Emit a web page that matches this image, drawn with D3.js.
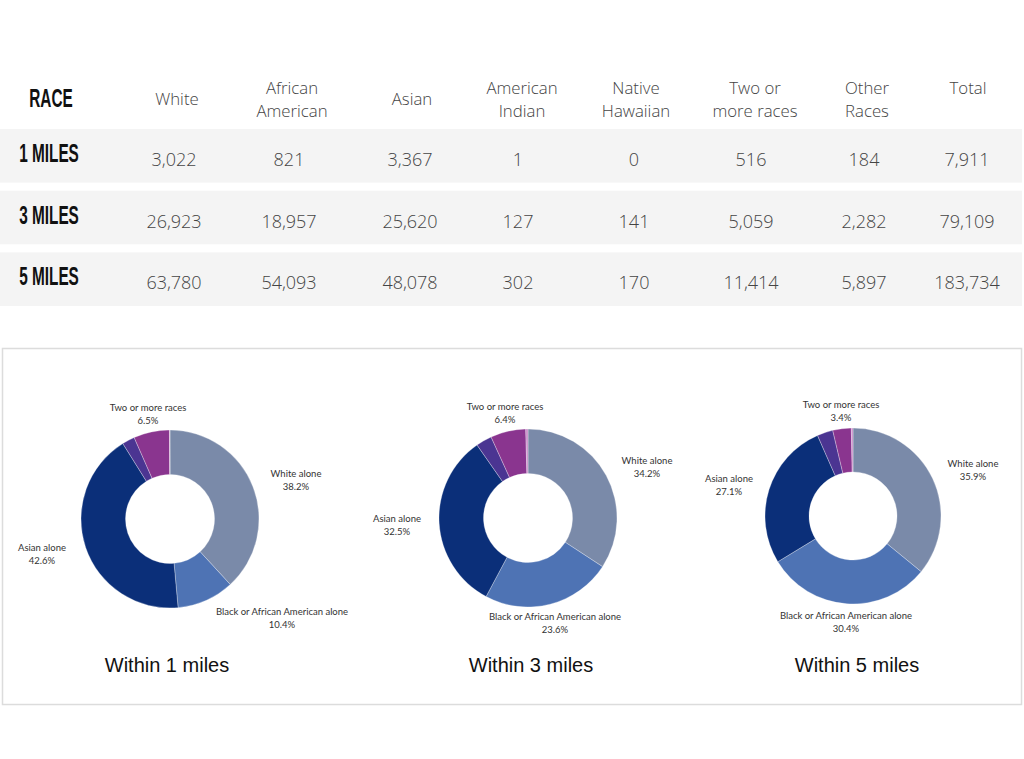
<!DOCTYPE html>
<html><head><meta charset="utf-8">
<script src="https://cdn.jsdelivr.net/npm/d3@7"></script>
<style>body{margin:0;background:#fff}svg{display:block}</style>
</head><body><svg id="c" width="1024" height="759"></svg>
<script>
// ---- data ----
const headerLabels = ["RACE","White","African American","Asian","American Indian","Native Hawaiian","Two or more races","Other Races","Total"];
const rowLabels = ["1 MILES","3 MILES","5 MILES"];
const white = [3022, 26923, 63780];
const africanAmerican = [821, 18957, 54093];
const asian = [3367, 25620, 48078];
const americanIndian = [1, 127, 302];
const nativeHawaiian = [0, 141, 170];
const twoOrMore = [516, 5059, 11414];
const otherRaces = [184, 2282, 5897];
const total = [7911, 79109, 183734];

const donutTitles = ["Within 1 miles","Within 3 miles","Within 5 miles"];
const sliceNames = ["White alone","Black or African American alone","Asian alone","Some other race alone","Two or more races","American Indian / Native Hawaiian"];
const pct1 = [38.2, 10.4, 42.6, 2.3, 6.5, 0.1];
const pct3 = [34.2, 23.6, 32.5, 2.9, 6.4, 0.4];
const pct5 = [35.9, 30.4, 27.1, 2.9, 3.4, 0.3];

// ---- layout ----
const svg = d3.select("#c");
const fmt = d3.format(",");
const cols = d3.range(headerLabels.length);
const colX = d3.scaleOrdinal().domain(cols).range([51,177,292,412,522,636,755,867,968]);
const valX = d3.scaleOrdinal().domain(cols).range([47,174,289,410,518,634,751,864,967]);
const rowY = d3.scaleBand().domain(rowLabels).range([129, 306]).paddingInner(0.13);
const headerLines = {"Two or more races":["Two or","more races"]};

// row backgrounds
svg.selectAll("rect.row").data(rowLabels).join("rect")
  .attr("x",0).attr("width",1022)
  .attr("y",d=>rowY(d)).attr("height",rowY.bandwidth())
  .attr("fill","#f4f4f4");

// header
const hdr = svg.append("g");
headerLabels.forEach((h,i)=>{
  if(i===0){
    hdr.append("text").attr("transform",`translate(${colX(i)},107) scale(0.64,1.04)`)
      .attr("text-anchor","middle").attr("font-family","'Liberation Sans Narrow','Liberation Sans',sans-serif")
      .attr("font-weight","bold").attr("font-size",24).attr("fill","#111").text(h);
    return;
  }
  const words = h.split(" ");
  const lines = headerLines[h] || (words.length===2 ? words : [h]);
  const y0 = (lines.length===2 || h==="Total") ? 94 : 105;
  lines.forEach((l,k)=>hdr.append("text").attr("text-anchor","middle")
    .attr("font-family","'Open Sans',sans-serif").attr("font-weight",300)
    .attr("font-size",16.8).attr("fill","#444")
    .attr("x",colX(i)).attr("y",y0+k*23).text(l));
});

// body
const series = [white, africanAmerican, asian, americanIndian, nativeHawaiian, twoOrMore, otherRaces, total];
rowLabels.forEach((r,ri)=>{
  const by = rowY(r) + rowY.bandwidth()/2 + 6;
  svg.append("text").attr("transform",`translate(${colX(0)-2},${by}) scale(0.64,1.04)`)
    .attr("text-anchor","middle").attr("font-family","'Liberation Sans Narrow','Liberation Sans',sans-serif")
    .attr("font-weight","bold").attr("font-size",24).attr("fill","#111").text(r);
  series.forEach((s,ci)=>{
    svg.append("text").attr("x",valX(ci+1)).attr("y",by+4)
      .attr("text-anchor","middle").attr("font-family","'Open Sans',sans-serif")
      .attr("font-weight",300).attr("font-size",18).attr("fill","#444")
      .text(fmt(s[ri]));
  });
});

// ---- donut panel ----
svg.append("rect").attr("x",2.5).attr("y",348.5).attr("width",1019).attr("height",356)
  .attr("fill","#fff").attr("stroke","#dcdcdc").attr("stroke-width",1.5);

const color = d3.scaleOrdinal().domain(sliceNames)
  .range(["#7a8aa9","#4e73b4","#0b2f79","#4b3592","#8a358f","#c98bc9"]);
const pie = d3.pie().sort(null).value(d=>d.v);

const donuts = [
  {pct:pct1, cx:170, cy:519, r:89, title:donutTitles[0], tx:167,
   labels:[[296,474],[282,612],[42,548],null,[148,408],null]},
  {pct:pct3, cx:528, cy:518, r:89, title:donutTitles[1], tx:531,
   labels:[[647,461],[555,617],[397,519],null,[505,407],null]},
  {pct:pct5, cx:853, cy:516, r:88, title:donutTitles[2], tx:857,
   labels:[[973,464],[846,616],[729,479],null,[841,405],null]}
];
const labelText = ["White alone","Black or African American alone","Asian alone",null,"Two or more races",null];

donuts.forEach(D=>{
  const data = sliceNames.map((n,i)=>({name:n, v:D.pct[i]}));
  const arc = d3.arc().innerRadius(D.r*0.5).outerRadius(D.r);
  const g = svg.append("g").attr("transform",`translate(${D.cx},${D.cy})`);
  g.selectAll("path").data(pie(data)).join("path")
    .attr("d",arc).attr("fill",d=>color(d.data.name))
    .attr("stroke","#fff").attr("stroke-width",0.3);
  data.forEach((d,i)=>{
    if(!D.labels[i]) return;
    const [lx,ly]=D.labels[i];
    const t = svg.append("text").attr("text-anchor","middle")
      .attr("font-family","Lato,'Noto Sans',sans-serif").attr("font-size",9.5).attr("fill","#333");
    t.append("tspan").attr("x",lx).attr("y",ly+3).text(labelText[i]);
    t.append("tspan").attr("x",lx).attr("y",ly+16).text(d.v.toFixed(1)+"%");
  });
  svg.append("text").attr("x",D.tx).attr("y",672).attr("text-anchor","middle")
    .attr("font-family","'Liberation Sans',Arial,sans-serif").attr("font-size",20)
    .attr("fill","#111").text(D.title);
});
</script></body></html>
